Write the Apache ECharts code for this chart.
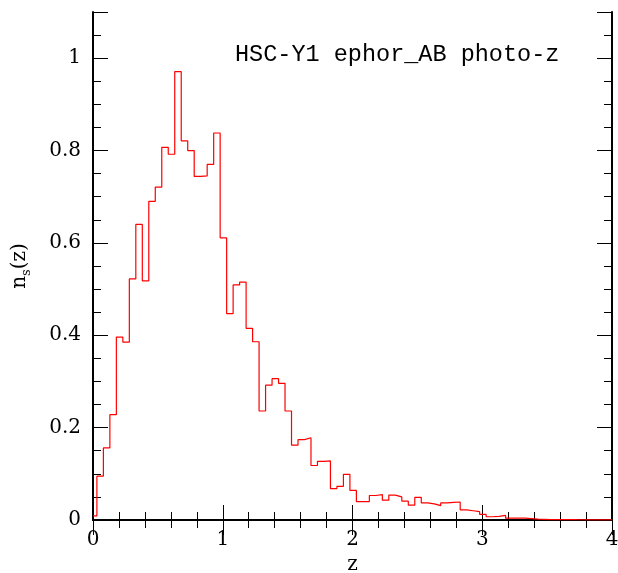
<!DOCTYPE html>
<html><head><meta charset="utf-8">
<script src="https://cdn.jsdelivr.net/npm/echarts@6/dist/echarts.min.js"></script>
<style>html,body{margin:0;padding:0;background:#fff}#c{width:618px;height:573px}</style>
</head><body><div id="c"></div>
<script>
// ---- data ----
const firstBinEdge = 0;        // partial first bin [0, 0.03]
const firstBinValue = 0.009;
const binStart = 0.03;         // left edge of first full bin
const binWidth = 0.05;
const binValues = [
  0.095, 0.156, 0.228, 0.396, 0.385, 0.522, 0.640, 0.518, 0.690, 0.721,
  0.807, 0.792, 0.971, 0.821, 0.800, 0.744, 0.745, 0.770, 0.838, 0.611,
  0.447, 0.509, 0.515, 0.415, 0.386, 0.236, 0.292, 0.306, 0.296, 0.236,
  0.162, 0.174, 0.178, 0.118, 0.127, 0.128, 0.068, 0.073, 0.099, 0.064,
  0.040, 0.040, 0.053, 0.055, 0.043, 0.054, 0.050, 0.041, 0.032, 0.049,
  0.037, 0.035, 0.031, 0.037, 0.038, 0.039, 0.022, 0.020, 0.018, 0.012,
  0.007, 0.008, 0.010, 0.004, 0.004, 0.004, 0.003, 0.002, 0.0015, 0.001,
  0.001, 0.001, 0.0008, 0.0006, 0.0005, 0.0004, 0.0003, 0.0003, 0.0002, 0.0002
];
const xMin = 0, xMax = 4, xMajor = 1;
const yMin = 0, yMax = 1.1, yMajor = 0.2, yMinor = 0.05;
const titleText = 'HSC-Y1 ephor_AB photo-z';
const xName = 'z';

// ---- build step points ----
const pts = [[firstBinEdge, firstBinValue]];
binValues.forEach((v, i) => pts.push([+(binStart + i * binWidth).toFixed(4), v]));
pts.push([xMax, binValues[binValues.length - 1]]);

const FONT = 'DejaVu Serif';
const lab = {fontFamily: FONT, fontSize: 20, color: '#000'};
const axisLine = {show: true, lineStyle: {color: '#000', width: 2}};
const tickStyle = {color: '#000', width: 1};

function xAx(pos, labels) {
  return {
    type: 'value', position: pos, min: xMin, max: xMax, interval: xMajor,
    axisLine: axisLine,
    axisTick: {show: true, inside: true, length: 15, lineStyle: tickStyle},
    minorTick: {show: true, splitNumber: 5, length: 8, lineStyle: tickStyle},
    axisLabel: labels ? Object.assign({show: true, margin: 10}, lab) : {show: false},
    splitLine: {show: false},
    name: labels ? xName : '', nameLocation: 'middle', nameGap: 28,
    nameTextStyle: lab
  };
}
function yAx(pos, interval, len, labels, line) {
  const a = {
    type: 'value', position: pos, min: yMin, max: yMax, interval: interval,
    axisLine: line ? axisLine : {show: false},
    axisTick: {show: true, inside: true, length: len, lineStyle: tickStyle},
    axisLabel: labels ? Object.assign({show: true, margin: 12,
      formatter: v => (v > 1.05 ? '' : String(+v.toFixed(2)))}, lab) : {show: false},
    splitLine: {show: false}
  };
  if (labels) {
    a.name = '{n|n}{s|s}{n|(z)}';
    a.nameLocation = 'middle';
    a.nameRotate = 90;
    a.nameGap = 60;
    a.nameTextStyle = {
      rich: {
        n: {fontFamily: FONT, fontSize: 20, color: '#000', lineHeight: 26, verticalAlign: 'middle'},
        s: {fontFamily: FONT, fontSize: 13, color: '#000', lineHeight: 26, verticalAlign: 'bottom', padding: [10, 0, 0, 0]}
      }
    };
  }
  return a;
}

const chart = echarts.init(document.getElementById('c'), null, {renderer: 'canvas'});
chart.setOption({
  animation: false,
  backgroundColor: '#fff',
  title: {
    text: titleText, left: 230, top: 38,
    textStyle: {fontFamily: 'Liberation Mono', fontSize: 23.5, fontWeight: 'normal', color: '#000'}
  },
  grid: {left: 93, top: 12, right: 6, bottom: 53, containLabel: false, outerBoundsMode: 'none'},
  xAxis: [xAx('bottom', true), xAx('top', false)],
  yAxis: [
    yAx('left', yMajor, 15, true, true),
    yAx('left', yMinor, 8, false, false),
    yAx('right', yMajor, 15, false, true),
    yAx('right', yMinor, 8, false, false)
  ],
  series: [{
    type: 'line', step: 'end', data: pts, xAxisIndex: 0, yAxisIndex: 0,
    symbol: 'none', lineStyle: {color: '#ff0000', width: 1.2}, clip: true
  }]
});
</script></body></html>
